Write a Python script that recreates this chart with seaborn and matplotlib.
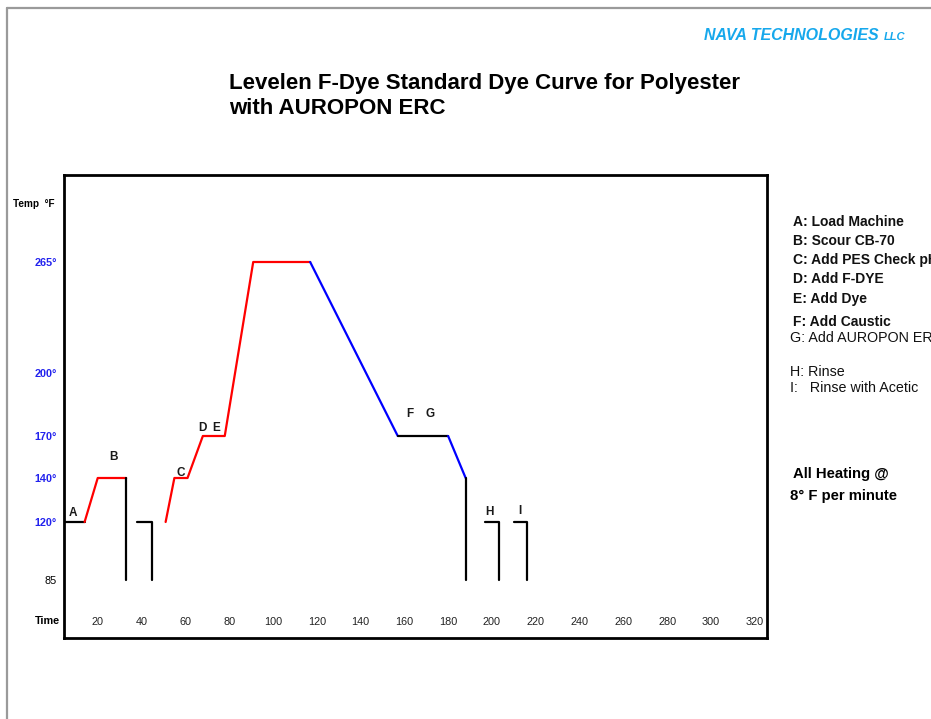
import numpy as np
import pandas as pd
import matplotlib
matplotlib.use("Agg")
import matplotlib.pyplot as plt
import seaborn as sns

# =========================
# DATA
# =========================

# dye curve pieces: time (min) and temperature (F)
seg_names = ["load", "heat1", "drop1", "fill", "heat2", "cool1", "hold_fg", "cool2", "drain", "rinse_h", "rinse_i"]
seg_colors = ["black", "red", "black", "black", "red", "blue", "black", "blue", "black", "black", "black"]
seg_times = [
    [4.6, 14],
    [14, 20, 33],
    [33, 33],
    [38, 45, 45],
    [51, 55, 61, 68, 78, 91, 117],
    [117, 157],
    [157, 180],
    [180, 188],
    [188, 188],
    [197, 203, 203],
    [210, 216, 216],
]
seg_temps = [
    [120, 120],
    [120, 140, 140],
    [140, 85],
    [120, 120, 85],
    [120, 140, 140, 170, 170, 265, 265],
    [265, 170],
    [170, 170],
    [170, 140],
    [140, 85],
    [120, 120, 85],
    [120, 120, 85],
]

step_letters = ["A", "B", "C", "D", "E", "F", "G", "H", "I"]
step_times = [8.7, 27.4, 58, 67.6, 74, 162.6, 171.7, 199, 212.8]
step_temps = [124, 155, 143.6, 173.8, 173.8, 180.5, 180.5, 124.5, 125]

time_ticks = [20, 40, 60, 80, 100, 120, 140, 160, 180, 200, 220, 240, 260, 280, 300, 320]
temp_ticks = [85, 120, 140, 170, 200, 265]
temp_labels = ["85", "120°", "140°", "170°", "200°", "265°"]

steps_text = [
    "A: Load Machine",
    "B: Scour CB-70",
    "C: Add PES Check pH",
    "D: Add F-DYE",
    "E: Add Dye",
    "F: Add Caustic",
    "G: Add AUROPON ERC",
    "H: Rinse",
    "I:   Rinse with Acetic",
]

# the drawn temperature axis is not linear, so map it piecewise
scale_temps = [50, 85, 120, 140, 170, 200, 265, 316]
scale_levels = [0, 58, 116, 160, 202, 265, 376, 463]


def fwd(t):
    return np.interp(t, scale_temps, scale_levels)


def inv(v):
    return np.interp(v, scale_levels, scale_temps)


rows = []
for name, ts, temps in zip(seg_names, seg_times, seg_temps):
    for i, (t, temp) in enumerate(zip(ts, temps)):
        rows.append({"seg": name, "order": i, "time": t, "temp": temp})
df = pd.DataFrame(rows)

# =========================
# PLOT
# =========================

sns.set_theme(style="white")
plt.rcParams["font.family"] = ["Liberation Sans", "DejaVu Sans"]
plt.rcParams["text.color"] = "black"

fig = plt.figure(figsize=(9.31, 7.19), dpi=100)
ax = fig.add_axes([64 / 931, 81 / 719, 703 / 931, 463 / 719])

ax.set_yscale("function", functions=(fwd, inv))

sns.lineplot(
    data=df, x="time", y="temp", hue="seg", units="seg",
    palette=dict(zip(seg_names, seg_colors)), hue_order=seg_names,
    sort=False, estimator=None, legend=False, linewidth=1.6, ax=ax
)

ax.set_xlim(4.6, 325.6)
ax.set_ylim(50, 316)

for letter, t, temp in zip(step_letters, step_times, step_temps):
    ax.text(t, temp, letter, ha="center", va="center", fontsize=8.5, fontweight="bold", color="#1a1a1a")

ax.set_xticks(time_ticks)
ax.set_xticklabels([str(v) for v in time_ticks])
ax.tick_params(axis="x", length=0, pad=-15, labelsize=7.8, labelcolor="#222222")
ax.set_yticks(temp_ticks)
ax.set_yticklabels(temp_labels)
ax.tick_params(axis="y", length=0, pad=5, labelsize=7.8)
for lab in ax.get_yticklabels():
    if lab.get_text() == "85":
        lab.set_color("black")
    else:
        lab.set_color("#2222ee")
        lab.set_fontweight("bold")
ax.minorticks_off()
ax.set_xlabel("")
ax.set_ylabel("")

for sp in ax.spines.values():
    sp.set_visible(True)
    sp.set_color("black")
    sp.set_linewidth(2)

# axis captions outside the frame
fig.text(60 / 931, 1 - 621 / 719, "Time", ha="right", va="center", fontsize=7.8, fontweight="bold")
fig.text(13 / 931, 1 - 204 / 719, "Temp  °F", ha="left", va="center", fontsize=7.2, fontweight="bold")

# title
fig.text(229 / 931, 1 - 84 / 719, "Levelen F-Dye Standard Dye Curve for Polyester",
         ha="left", va="center", fontsize=16, fontweight="bold")
fig.text(229 / 931, 1 - 109 / 719, "with AUROPON ERC",
         ha="left", va="center", fontsize=16, fontweight="bold")

# company name
fig.text(704 / 931, 1 - 36 / 719, "NAVA TECHNOLOGIES", ha="left", va="center", fontsize=11.5,
         fontweight="bold", fontstyle="italic", color="#16a8ec")
fig.text(884 / 931, 1 - 37 / 719, "LLC", ha="left", va="center", fontsize=8,
         fontweight="bold", fontstyle="italic", color="#16a8ec")

# step list on the right
step_y = [222, 241, 260, 279, 299, 322, 338, 372, 388]
step_x = [793, 793, 793, 793, 793, 793, 790, 790, 790]
step_size = [10, 10, 10, 10, 10, 10, 10.3, 10.3, 10.3]
step_weight = ["bold"] * 6 + ["normal"] * 3
for txt, x, y, s, w in zip(steps_text, step_x, step_y, step_size, step_weight):
    fig.text(x / 931, 1 - y / 719, txt, ha="left", va="center", fontsize=s, fontweight=w, color="#111111")

fig.text(793 / 931, 1 - 474 / 719, "All Heating @", ha="left", va="center", fontsize=10.7, fontweight="bold")
fig.text(790 / 931, 1 - 496 / 719, "8° F per minute", ha="left", va="center", fontsize=10.7, fontweight="bold")

# page edges
fig.add_artist(plt.Line2D([7 / 931, 1], [1 - 8 / 719, 1 - 8 / 719], color="#9a9a9a", lw=1.6))
fig.add_artist(plt.Line2D([7 / 931, 7 / 931], [0, 1 - 8 / 719], color="#9a9a9a", lw=1.6))

fig.savefig("out.png", dpi=100)
